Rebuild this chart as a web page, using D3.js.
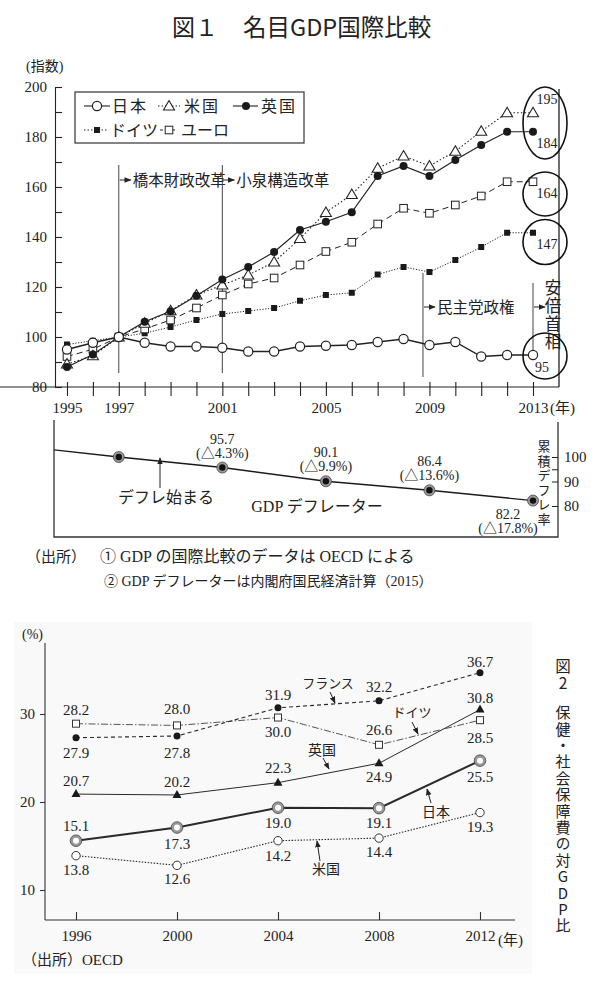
<!DOCTYPE html>
<html>
<head>
<meta charset="utf-8">
<script src="https://cdn.jsdelivr.net/npm/d3@7"></script>
<style>
body { margin: 0; background: #fff; }
text { font-family: "Liberation Serif", "Noto Sans CJK JP", serif; fill: #222; }
.g { font-family: "Noto Sans CJK JP", sans-serif; }
.v { writing-mode: vertical-rl; text-orientation: upright; }
</style>
</head>
<body>
<svg id="chart" width="600" height="983"></svg>
<script>
// ---- fig 1 : nominal GDP index (1997 = 100)
var years = [1995,1996,1997,1998,1999,2000,2001,2002,2003,2004,2005,2006,2007,2008,2009,2010,2011,2012,2013];
var japan   = [95, 97.7, 100, 97.7, 96.2, 96.2, 95.7, 94.2, 94.2, 96.2, 96.5, 96.8, 98, 99.2, 96.8, 98, 92.2, 92.8, 92.8];
var usa     = [89.2, 92.5, 100, 105.5, 110.5, 116.8, 120.8, 124.8, 130, 139.4, 149.8, 157, 167.5, 172.4, 168.4, 174.3, 182.3, 189.7, 189.7];
var uk      = [88, 93, 100, 106.1, 110.3, 116.5, 123, 128, 134, 142.8, 146.1, 149.9, 164.4, 168.4, 164.4, 170.8, 176.8, 182.1, 182.1];
var germany = [97, 98.5, 100, 101.5, 104, 106.8, 109.2, 110.4, 111.6, 114.5, 116.8, 117.7, 125, 128, 126, 130.8, 136, 141.7, 141.7];
var euro    = [92.2, 95.1, 100, 103.2, 106.8, 111.6, 116.8, 121.2, 123.6, 128.8, 134.2, 137.9, 145.2, 151.5, 149.5, 152.8, 156.4, 162.1, 162.1];
var yearLabels = [1995, 1997, 2001, 2005, 2009, 2013];
var endLabels = ["195", "184", "164", "147", "95"];

// GDP deflator (lower panel)
var defYears  = [1994.5, 1997, 2001, 2005, 2009, 2013];
var defValues = [102.9, 100, 95.7, 90.1, 86.4, 82.2];
var defText   = ["", "", "95.7", "90.1", "86.4", "82.2"];
var defPct    = ["", "", "(△4.3%)", "(△9.9%)", "(△13.6%)", "(△17.8%)"];

// ---- fig 2 : social security spending / GDP
var years2   = [1996, 2000, 2004, 2008, 2012];
var france2  = [27.3, 27.5, 30.7, 31.5, 34.7];
var germany2 = [28.9, 28.7, 29.6, 26.5, 29.3];
var uk2      = [20.9, 20.8, 22.2, 24.4, 30.5];
var japan2   = [15.6, 17.1, 19.35, 19.3, 24.7];
var usa2     = [13.9, 12.8, 15.6, 15.9, 18.8];
var france2Lbl  = ["27.9", "27.8", "31.9", "32.2", "36.7"];
var germany2Lbl = ["28.2", "28.0", "30.0", "26.6", "28.5"];
var uk2Lbl      = ["20.7", "20.2", "22.3", "24.9", "30.8"];
var japan2Lbl   = ["15.1", "17.3", "19.0", "19.1", "25.5"];
var usa2Lbl     = ["13.8", "12.6", "14.2", "14.4", "19.3"];

var svg = d3.select("#chart");

svg.append("defs").append("marker")
    .attr("id", "arr").attr("viewBox", "0 0 10 10").attr("refX", 9).attr("refY", 5)
    .attr("markerWidth", 7).attr("markerHeight", 7).attr("orient", "auto-start-reverse")
    .append("path").attr("d", "M0,1 L10,5 L0,9 z").attr("fill", "#222");

function vtext(g, txt, cx, top, size, spacing, cls) {
    return g.append("text").attr("class", "v" + (cls ? " " + cls : "")).attr("x", cx).attr("y", top)
        .style("font-size", size + "px").style("letter-spacing", spacing + "px").text(txt);
}

// ================= FIG 1 =================
svg.append("text").attr("class", "g").attr("x", 172).attr("y", 36)
    .style("font-size", "23px").text("図１");
svg.append("text").attr("class", "g").attr("x", 243).attr("y", 36)
    .style("font-size", "23.5px").text("名目GDP国際比較");
svg.append("text").attr("x", 26).attr("y", 71).style("font-size", "14px").text("(指数)");

var x = d3.scaleLinear().domain([1995, 2013]).range([67, 533]);
var y = d3.scaleLinear().domain([80, 200]).range([387, 87]);

var plot = svg.append("g");

// axes
var yAx = plot.append("g").attr("transform", "translate(55,0)")
    .call(d3.axisLeft(y).tickValues(d3.range(80, 201, 10)).tickSizeInner(-7).tickSizeOuter(0).tickPadding(8)
        .tickFormat(function(d) { return d % 20 == 0 ? d : ""; }));
var xAx = plot.append("g").attr("transform", "translate(0,387)")
    .call(d3.axisBottom(x).tickValues(years).tickSizeInner(9).tickSizeOuter(0).tickPadding(6)
        .tickFormat(function(d) { return yearLabels.indexOf(d) >= 0 ? d : ""; }));
xAx.select(".domain").attr("d", "M-12,0H559");
xAx.selectAll(".tick line").attr("y1", -5);
[yAx, xAx].forEach(function(a) {
    a.selectAll("text").style("font-size", "15px").style("font-family", "Liberation Serif").attr("fill", "#222");
    a.selectAll("line,path").attr("stroke", "#222").attr("stroke-width", 1.1);
});
plot.append("text").attr("x", x(2013) + 17).attr("y", 413).style("font-size", "15px").text("(年)");
// right frame
plot.append("line").attr("x1", 559).attr("x2", 559).attr("y1", 89).attr("y2", 387)
    .attr("stroke", "#333").attr("stroke-width", 1.4);

// event lines
var events = [
    { yr: 1997, y1: 165, y2: 373, ty: 180, label: "橋本財政改革" },
    { yr: 2001, y1: 165, y2: 373, ty: 180, label: "小泉構造改革" },
    { yr: 2008.75, y1: 273, y2: 377, ty: 307, label: "民主党政権" },
    { yr: 2013, y1: 283, y2: 353, ty: 307, label: "" }
];
events.forEach(function(e) {
    plot.append("line").attr("x1", x(e.yr)).attr("x2", x(e.yr)).attr("y1", e.y1).attr("y2", e.y2)
        .attr("stroke", "#444").attr("stroke-width", 1);
    plot.append("line").attr("x1", x(e.yr) + 1).attr("x2", x(e.yr) + 12).attr("y1", e.ty).attr("y2", e.ty)
        .attr("stroke", "#222").attr("stroke-width", 1).attr("marker-end", "url(#arr)");
    if (e.label) {
        plot.append("text").attr("class", "g").attr("x", x(e.yr) + 14).attr("y", e.ty + 6)
            .style("font-size", "15.5px").text(e.label);
    }
});
vtext(plot, "安倍首相", 553, 279, 16.5, 1.5, "g");

var series = [
    { name: "ドイツ", data: germany, dash: "1.2,1.6", mark: "fsq", w: 1 },
    { name: "ユーロ", data: euro, dash: "6,4", mark: "osq", w: 1 },
    { name: "米国", data: usa, dash: "1.5,2.2", mark: "tri", w: 1.1 },
    { name: "英国", data: uk, dash: null, mark: "fci", w: 1.2 },
    { name: "日本", data: japan, dash: null, mark: "oci", w: 1.3 }
];

var line = d3.line().x(function(d) { return x(d[0]); }).y(function(d) { return y(d[1]); });

function drawMark(g, kind, cx, cy) {
    if (kind == "oci") {
        g.append("circle").attr("cx", cx).attr("cy", cy).attr("r", 4.6).attr("fill", "#fff").attr("stroke", "#222").attr("stroke-width", 1.2);
    } else if (kind == "fci") {
        g.append("circle").attr("cx", cx).attr("cy", cy).attr("r", 4).attr("fill", "#1a1a1a");
    } else if (kind == "fsq") {
        g.append("rect").attr("x", cx - 3).attr("y", cy - 3).attr("width", 6).attr("height", 6).attr("fill", "#1a1a1a");
    } else if (kind == "osq") {
        g.append("rect").attr("x", cx - 3.8).attr("y", cy - 3.8).attr("width", 7.6).attr("height", 7.6)
            .attr("fill", "#fff").attr("stroke", "#222").attr("stroke-width", 1);
    } else if (kind == "tri") {
        g.append("path").attr("d", "M" + cx + "," + (cy - 5.5) + "L" + (cx + 5.5) + "," + (cy + 4) + "L" + (cx - 5.5) + "," + (cy + 4) + "Z")
            .attr("fill", "#fff").attr("stroke", "#222").attr("stroke-width", 1.1);
    }
}

series.forEach(function(s) {
    var pts = years.map(function(yr, i) { return [yr, s.data[i]]; });
    plot.append("path").datum(pts).attr("d", line).attr("fill", "none")
        .attr("stroke", "#222").attr("stroke-width", s.w).attr("stroke-dasharray", s.dash);
});
series.forEach(function(s) {
    var g = plot.append("g");
    years.forEach(function(yr, i) { drawMark(g, s.mark, x(yr), y(s.data[i])); });
});

// end annotations
var rings = [
    { v: 185.6, ry: 36 }, { v: 157.2, ry: 22 }, { v: 138, ry: 22.5 }, { v: 92.4, ry: 23 }
];
rings.forEach(function(r) {
    plot.append("ellipse").attr("cx", x(2013) + 12).attr("cy", y(r.v)).attr("rx", 22).attr("ry", r.ry)
        .attr("fill", "none").attr("stroke", "#111").attr("stroke-width", 1.6);
});
var endPos = [[547, 104], [547, 148], [547, 198], [547, 249], [542, 372]];
endLabels.forEach(function(t, i) {
    plot.append("text").attr("x", endPos[i][0]).attr("y", endPos[i][1]).attr("text-anchor", "middle")
        .style("font-size", "14px").text(t);
});

// legend
var lg = plot.append("g");
lg.append("rect").attr("x", 75).attr("y", 92).attr("width", 229).attr("height", 51)
    .attr("fill", "#fff").attr("stroke", "#333").attr("stroke-width", 1.2);
var legendItems = [
    { s: series[4], x0: 84, x1: 110, mx: 97, ly: 106, tx: 112 },
    { s: series[2], x0: 158, x1: 180, mx: 169, ly: 106, tx: 184 },
    { s: series[3], x0: 233, x1: 258, mx: 246, ly: 106, tx: 261 },
    { s: series[0], x0: 84, x1: 108, mx: 97, ly: 130, tx: 110 },
    { s: series[1], x0: 160, x1: 178, mx: 169, ly: 130, tx: 181 }
];
legendItems.forEach(function(it) {
    lg.append("line").attr("x1", it.x0).attr("x2", it.x1).attr("y1", it.ly).attr("y2", it.ly)
        .attr("stroke", "#222").attr("stroke-width", 1.1).attr("stroke-dasharray", it.s.dash ? (it.s.mark == "osq" ? "3,3" : "1.5,2") : null);
    drawMark(lg, it.s.mark, it.mx, it.ly);
    lg.append("text").attr("class", "g").attr("x", it.tx).attr("y", it.ly + 6)
        .style("font-size", "16px").style("letter-spacing", it.s.name.length == 2 ? "2px" : "0px").text(it.s.name);
});

// ---- lower panel: GDP deflator
var yd = d3.scaleLinear().domain([80, 100]).range([506, 457]);
var low = svg.append("g");
low.append("path").attr("d", "M54,420V537H558V422").attr("fill", "none").attr("stroke", "#333").attr("stroke-width", 1.3);
var rAx = low.append("g").attr("transform", "translate(558,0)")
    .call(d3.axisRight(yd).tickValues([80, 90, 95, 100]).tickSizeInner(-6).tickSizeOuter(0).tickPadding(6)
        .tickFormat(function(d) { return d == 95 ? "" : d; }));
rAx.select(".domain").remove();
rAx.selectAll("line").attr("stroke", "#222");
rAx.selectAll("text").style("font-size", "15px").style("font-family", "Liberation Serif").attr("fill", "#222");

var defPts = defYears.map(function(yr, i) { return [yr, defValues[i]]; });
low.append("path").datum(defPts)
    .attr("d", d3.line().x(function(d) { return x(d[0]); }).y(function(d) { return yd(d[1]); }))
    .attr("fill", "none").attr("stroke", "#1a1a1a").attr("stroke-width", 1.4);
defPts.slice(1).forEach(function(d, j) {
    var i = j + 1;
    low.append("circle").attr("cx", x(d[0])).attr("cy", yd(d[1])).attr("r", 5.5)
        .attr("fill", "#999").attr("stroke", "#444").attr("stroke-width", 0.8);
    low.append("circle").attr("cx", x(d[0])).attr("cy", yd(d[1])).attr("r", 3.2).attr("fill", "#111");
    if (defText[i]) {
        var below = i == 5;
        var cx = below ? x(d[0]) - 25 : x(d[0]);
        var ty = below ? yd(d[1]) + 18 : yd(d[1]) - 24;
        low.append("text").attr("x", cx).attr("y", ty).attr("text-anchor", "middle").style("font-size", "14px").text(defText[i]);
        low.append("text").attr("x", cx).attr("y", ty + 14).attr("text-anchor", "middle").style("font-size", "14px").text(defPct[i]);
    }
});
low.append("line").attr("x1", 160).attr("x2", 160).attr("y1", 488).attr("y2", 458)
    .attr("stroke", "#222").attr("stroke-width", 1).attr("marker-end", "url(#arr)");
low.append("text").attr("class", "g").attr("x", 118).attr("y", 503).style("font-size", "16px").text("デフレ始まる");
low.append("text").attr("x", 317).attr("y", 512).attr("text-anchor", "middle").style("font-size", "16px").text("GDP デフレーター");
vtext(low, "累積デフレ率", 543, 440, 13, 1.5);

svg.append("text").attr("x", 26).attr("y", 562).style("font-size", "15px").text("（出所）");
svg.append("text").attr("x", 100).attr("y", 562).style("font-size", "16px").text("① GDP の国際比較のデータは OECD による");
svg.append("text").attr("x", 104).attr("y", 586).style("font-size", "14px").text("② GDP デフレーターは内閣府国民経済計算（2015）");

// ================= FIG 2 =================
var x2 = d3.scaleLinear().domain([1996, 2012]).range([76, 480]);
var y2 = d3.scaleLinear().domain([10, 30]).range([890, 714]);
var f2 = svg.append("g");
f2.append("rect").attr("x", 14).attr("y", 622).attr("width", 518).attr("height", 352).attr("fill", "#f9f9f9");

f2.append("text").attr("x", 22).attr("y", 639).style("font-size", "14px").text("(%)");
var y2Ax = f2.append("g").attr("transform", "translate(45,0)")
    .call(d3.axisLeft(y2).tickValues([10, 20, 30]).tickSizeInner(5).tickSizeOuter(0).tickPadding(5));
y2Ax.select(".domain").attr("d", "M0,643V920");
var x2Ax = f2.append("g").attr("transform", "translate(0,920)")
    .call(d3.axisBottom(x2).tickValues(years2).tickSizeInner(-8).tickSizeOuter(0).tickPadding(10)
        .tickFormat(d3.format("d")));
x2Ax.select(".domain").attr("d", "M45,0H515");
[y2Ax, x2Ax].forEach(function(a) {
    a.selectAll("text").style("font-size", "15px").style("font-family", "Liberation Serif").attr("fill", "#222");
    a.selectAll("line,path").attr("stroke", "#333").attr("stroke-width", 1.1);
});
f2.append("text").attr("x", x2(2012) + 18).attr("y", 945).style("font-size", "15px").text("(年)");
f2.append("text").attr("x", 22).attr("y", 965).style("font-size", "15px").text("（出所）OECD");

var series2 = [
    { data: usa2, lbl: usa2Lbl, off: [14, 14, 15, 14, 14], dash: "1.5,1.5", w: 1.1, mark: "oc" },
    { data: japan2, lbl: japan2Lbl, off: [-15, 16, 15, 15, 16], dash: null, w: 2, mark: "ring" },
    { data: uk2, lbl: uk2Lbl, off: [-13, -13, -15, 14, -12], dash: null, w: 1, mark: "tri" },
    { data: germany2, lbl: germany2Lbl, off: [-14, -16, 14, -15, 18], dash: "7,2,1.5,2", w: 1, mark: "sq" },
    { data: france2, lbl: france2Lbl, off: [15, 17, -13, -14, -11], dash: "4,3", w: 1.1, mark: "dot" }
];
var line2 = d3.line().x(function(d) { return x2(d[0]); }).y(function(d) { return y2(d[1]); });
series2.forEach(function(s) {
    var pts = years2.map(function(yr, i) { return [yr, s.data[i]]; });
    f2.append("path").datum(pts).attr("d", line2).attr("fill", "none")
        .attr("stroke", s.mark == "sq" ? "#555" : "#2a2a2a").attr("stroke-width", s.w).attr("stroke-dasharray", s.dash);
});
series2.forEach(function(s) {
    years2.forEach(function(yr, i) {
        var cx = x2(yr), cy = y2(s.data[i]);
        if (s.mark == "oc") {
            f2.append("circle").attr("cx", cx).attr("cy", cy).attr("r", 4.2).attr("fill", "#fff").attr("stroke", "#333").attr("stroke-width", 1);
        } else if (s.mark == "ring") {
            f2.append("circle").attr("cx", cx).attr("cy", cy).attr("r", 5.8).attr("fill", "#999").attr("stroke", "#444").attr("stroke-width", 0.8);
            f2.append("circle").attr("cx", cx).attr("cy", cy).attr("r", 3).attr("fill", "#fff");
        } else if (s.mark == "tri") {
            f2.append("path").attr("d", "M" + cx + "," + (cy - 5) + "L" + (cx + 4.5) + "," + (cy + 3) + "L" + (cx - 4.5) + "," + (cy + 3) + "Z").attr("fill", "#1a1a1a");
        } else if (s.mark == "sq") {
            f2.append("rect").attr("x", cx - 3.5).attr("y", cy - 3.5).attr("width", 7).attr("height", 7)
                .attr("fill", "#fff").attr("stroke", "#333").attr("stroke-width", 1);
        } else {
            f2.append("circle").attr("cx", cx).attr("cy", cy).attr("r", 3.5).attr("fill", "#1a1a1a");
        }
        f2.append("text").attr("x", cx).attr("y", cy + s.off[i] + 5).attr("text-anchor", "middle")
            .style("font-size", "15px").text(s.lbl[i]);
    });
});

// series name callouts
var callouts = [
    { t: "フランス", tx: 328, ty: 688, ax1: 330, ay1: 692, ax2: 335, ay2: 703, fs: 13 },
    { t: "ドイツ", tx: 412, ty: 717, ax1: 412, ay1: 722, ax2: 418, ay2: 734, fs: 13 },
    { t: "英国", tx: 322, ty: 755, ax1: 323, ay1: 758, ax2: 329, ay2: 769, fs: 14 },
    { t: "日本", tx: 436, ty: 817, ax1: 431, ay1: 803, ax2: 427, ay2: 789, fs: 14 },
    { t: "米国", tx: 326, ty: 874, ax1: 320, ay1: 861, ax2: 317, ay2: 841, fs: 14 }
];
callouts.forEach(function(c) {
    f2.append("line").attr("x1", c.ax1).attr("y1", c.ay1).attr("x2", c.ax2).attr("y2", c.ay2)
        .attr("stroke", "#222").attr("stroke-width", 1).attr("marker-end", "url(#arr)");
    f2.append("text").attr("class", "g").attr("x", c.tx).attr("y", c.ty).attr("text-anchor", "middle")
        .style("font-size", c.fs + "px").text(c.t);
});

// vertical title of fig 2
vtext(svg, "図2", 563, 658, 15.5, 2, "g");
vtext(svg, "保健・社会保障費の対GDP比", 563, 705, 15, 1.4, "g");
</script>
</body>
</html>
